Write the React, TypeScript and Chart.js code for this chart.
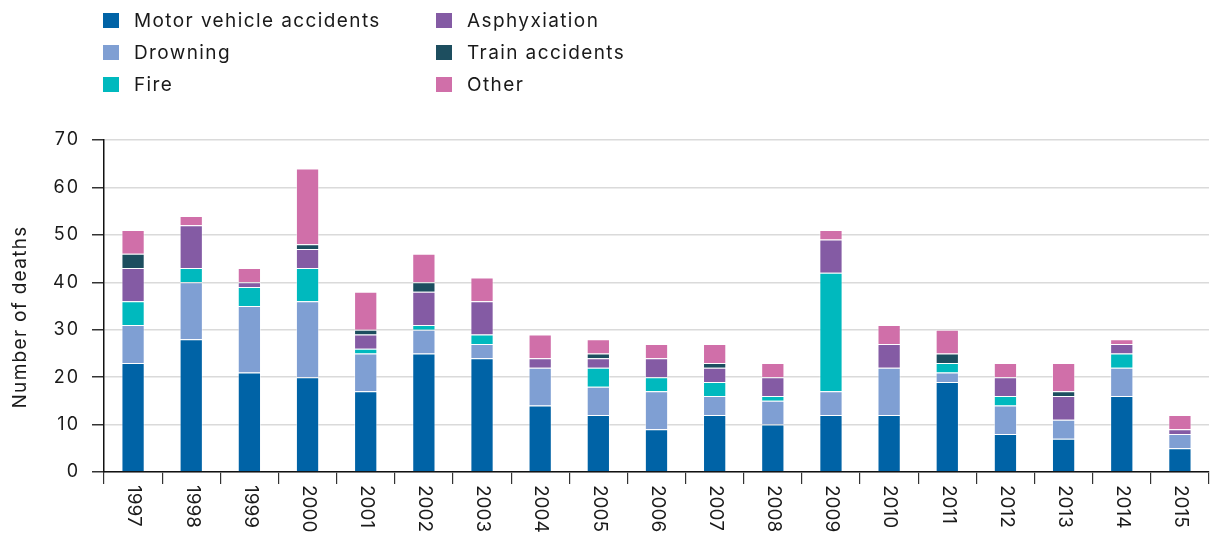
import React, { useEffect, useRef } from "react";
import { Chart, registerables } from "chart.js";

Chart.register(...registerables);

const years = ["1997","1998","1999","2000","2001","2002","2003","2004","2005","2006","2007","2008","2009","2010","2011","2012","2013","2014","2015"];
const motorVehicle = [23, 28, 21, 20, 17, 25, 24, 14, 12, 9, 12, 10, 12, 12, 19, 8, 7, 16, 5];
const drowning =     [8, 12, 14, 16, 8, 5, 3, 8, 6, 8, 4, 5, 5, 10, 2, 6, 4, 6, 3];
const fire =         [5, 3, 4, 7, 1, 1, 2, 0, 4, 3, 3, 1, 25, 0, 2, 2, 0, 3, 0];
const asphyxiation = [7, 9, 1, 4, 3, 7, 7, 2, 2, 4, 3, 4, 7, 5, 0, 4, 5, 2, 1];
const train =        [3, 0, 0, 1, 1, 2, 0, 0, 1, 0, 1, 0, 0, 0, 2, 0, 1, 0, 0];
const other =        [5, 2, 3, 16, 8, 6, 5, 5, 3, 3, 4, 3, 2, 4, 5, 3, 6, 1, 3];
const yTicks = [0, 10, 20, 30, 40, 50, 60, 70];
const yTitle = "Number of deaths";

const series = [
  { label: "Motor vehicle accidents", data: motorVehicle, color: "#0063a6" },
  { label: "Drowning", data: drowning, color: "#7f9fd3" },
  { label: "Fire", data: fire, color: "#00b9be" },
  { label: "Asphyxiation", data: asphyxiation, color: "#845ba4" },
  { label: "Train accidents", data: train, color: "#1d4e5f" },
  { label: "Other", data: other, color: "#d06fa9" },
];

const FONT = "Inter, 'Open Sans', sans-serif";

export default function App() {
  const ref = useRef<HTMLCanvasElement | null>(null);

  useEffect(() => {
    if (!ref.current) return;
    const textPlugin = {
      id: "customText",
      afterDraw(chart: any) {
        const xs = chart.scales.x;
        const ys = chart.scales.y;
        const ctx = chart.ctx;
        ctx.save();
        ctx.fillStyle = "#1a1a1a";
        // x labels, rotated clockwise
        ctx.font = `19px ${FONT}`;
        (ctx as any).letterSpacing = "0px";
        ctx.textAlign = "left";
        ctx.textBaseline = "middle";
        years.forEach((y, i) => {
          const x = xs.getPixelForValue(i);
          ctx.save();
          ctx.translate(x + 1, xs.top + 13);
          ctx.rotate(Math.PI / 2);
          ctx.fillText(y, 0, 0);
          ctx.restore();
        });
        // y tick labels
        ctx.font = `18px ${FONT}`;
        (ctx as any).letterSpacing = "2px";
        ctx.textAlign = "right";
        yTicks.forEach((v) => {
          const y = ys.getPixelForValue(v);
          ctx.fillText(String(v), 80, y);
        });
        // y title
        ctx.font = `19px ${FONT}`;
        (ctx as any).letterSpacing = "1.3px";
        ctx.textAlign = "center";
        ctx.save();
        ctx.translate(20, 317);
        ctx.rotate(-Math.PI / 2);
        ctx.fillText(yTitle, 0, 0);
        ctx.restore();
        ctx.restore();
      },
    };
    const chart = new Chart(ref.current, {
      type: "bar",
      data: {
        labels: years,
        datasets: series.map((s) => ({
          label: s.label,
          data: s.data,
          backgroundColor: s.color,
          borderColor: "rgba(255,255,255,0.45)",
          borderWidth: 1,
          barPercentage: 0.8,
          categoryPercentage: 0.5,
        })),
      },
      options: {
        responsive: false,
        animation: false,
        devicePixelRatio: 1,
        layout: { padding: { left: 0, top: 140, right: 10, bottom: 0 } },
        plugins: { legend: { display: false }, tooltip: { enabled: false } },
        scales: {
          x: {
            stacked: true,
            offset: true,
            grid: {
              display: true,
              drawOnChartArea: false,
              drawTicks: true,
              tickLength: 12,
              color: "#333",
              lineWidth: 1.2,
              offset: true,
            },
            border: { display: true, color: "#111", width: 1.5 },
            ticks: { display: false },
            afterFit: (s: any) => { s.height = 64; },
          },
          y: {
            stacked: true,
            min: 0,
            max: 70,
            afterBuildTicks: (s: any) => { s.ticks = yTicks.map((v) => ({ value: v })); },
            ticks: { display: false },
            grid: {
              color: "#dadada",
              lineWidth: 1.5,
              tickColor: "#333",
              tickLength: 12,
            },
            border: { display: true, color: "#111", width: 1.5 },
            afterFit: (s: any) => { s.width = 104; },
          },
        },
      },
      plugins: [textPlugin],
    });
    return () => chart.destroy();
  }, []);

  const col1 = series.slice(0, 3);
  const col2 = series.slice(3);
  const legendItem = (s: any, left: number, row: number) => (
    <div
      key={s.label}
      style={{
        position: "absolute",
        left,
        top: 20 + row * 32 - 12,
        height: 24,
        display: "flex",
        alignItems: "center",
        fontFamily: FONT,
        fontSize: 19,
        letterSpacing: "1.4px",
        color: "#1a1a1a",
        whiteSpace: "nowrap",
      }}
    >
      <span style={{ width: 16, height: 15, background: s.color, display: "inline-block", marginRight: 15, flex: "none" }} />
      <span>{s.label}</span>
    </div>
  );

  return (
    <div style={{ position: "fixed", left: 0, top: 0, width: 1219, height: 536, background: "#fff" }}>
      <canvas ref={ref} width={1219} height={536} style={{ display: "block" }} />
      {col1.map((s, i) => legendItem(s, 103, i))}
      {col2.map((s, i) => legendItem(s, 436, i))}
    </div>
  );
}
